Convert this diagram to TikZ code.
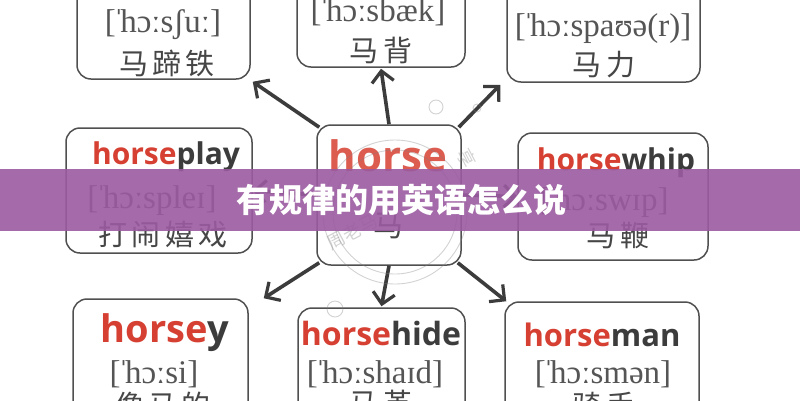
\documentclass[tikz,border=0pt]{standalone}
\usepackage{fontspec}
\setmainfont{Liberation Serif}
\newfontfamily\en{Open Sans}
\newfontfamily\cjk[LetterSpace=15]{Noto Sans CJK SC}
\newfontfamily\cjkt{Noto Sans CJK SC}
\usetikzlibrary{arrows.meta}
\definecolor{hred}{RGB}{214,64,50}
\definecolor{hgray}{RGB}{60,60,60}
\definecolor{pgray}{RGB}{85,85,85}
\definecolor{cgray}{RGB}{70,70,70}
\definecolor{edgec}{RGB}{80,80,80}
\definecolor{arrc}{RGB}{60,60,60}
\definecolor{bannerc}{RGB}{155,90,160}
\newcommand\hw[2]{{\color{hred}#1}{\color{hgray}#2}}
\newcommand\stress{\kern-0.08em ˈ\kern-0.12em}
\tikzset{
  box/.style={draw=edgec, line width=1.5pt, rounded corners=14pt, inner sep=0pt},
  word/.style={anchor=base, inner sep=0pt, font=\en\bfseries\fontsize{#1}{#1}\selectfont},
  phon/.style={anchor=base, inner sep=0pt, text=pgray, font=\fontsize{#1}{#1}\selectfont},
  zh/.style={anchor=center, inner sep=0pt, text=cgray, font=\cjk\fontsize{#1}{#1}\selectfont},
  arr/.style={draw=arrc, line width=3.6pt, -{Straight Barb[length=11pt,width=22pt,line width=3.2pt]}},
  wm/.style={draw=gray, opacity=0.35, line width=0.9pt}
}
\begin{document}
\begin{tikzpicture}[x=1pt,y=-1pt]
\useasboundingbox (0,0) rectangle (800,400);
\clip (0,0) rectangle (800,400);
\fill[white] (0,0) rectangle (800,400);
% boxes
\node[box, minimum width=173pt, minimum height=119pt] (tl) at (163.5,19.5) {};
\node[box, minimum width=168pt, minimum height=107pt] (tm) at (381,13.5) {};
\node[box, minimum width=193pt, minimum height=122pt] (tr) at (603.5,21) {};
\node[box, minimum width=186pt, minimum height=125pt] (ml) at (159,190.5) {};
\node[box, minimum width=144pt, minimum height=140pt] (c) at (389,195) {};
\node[box, minimum width=190pt, minimum height=127pt] (mr) at (613,196.5) {};
\node[box, minimum width=175pt, minimum height=141pt] (bl) at (160.5,369.5) {};
\node[box, minimum width=167pt, minimum height=132pt] (bm) at (381.5,374) {};
\node[box, minimum width=194pt, minimum height=138pt] (br) at (602,371) {};
% texts top row
\node[phon=33] (tlp) at (163,32) {[\stress hɔːsʃuː]};
\node[zh=29] (tlz) at (167,63) {马蹄铁};
\node[phon=33] (tmp) at (378,21) {[\stress hɔːsbæk]};
\node[zh=29] (tmz) at (381,50) {马背};
\node[phon=33] (trp) at (603,36) {[\stress hɔːspaʊə(r)]};
\node[zh=29] (trz) at (604,65) {马力};
% middle row
\node[word=30] (mlw) at (166,164) {\hw{horse}{play}};
\node[phon=33] (mlp) at (152,208) {[\stress hɔːspleɪ]};
\node[zh=29] (mlz) at (163,235) {打闹嬉戏};
\node[word=42, text opacity=0.85] (cw) at (388,171) {\hw{horse}{}};
\node[zh=30] (cz) at (388,226) {马};
\node[word=30] (mrw) at (616,170) {\hw{horse}{whip}};
\node[phon=33] (mrp) at (604,210) {[\stress hɔːswɪp]};
\node[zh=29] (mrz) at (618,236) {马鞭};
% bottom row
\node[word=38] (blw) at (165,342) {\hw{horse}{y}};
\node[phon=33] (blp) at (154,383) {[\stress hɔːsi]};
\node[zh=29] (blz) at (163,405) {像马的};
\node[word=32] (bmw) at (381,345) {\hw{horse}{hide}};
\node[phon=33] (bmp) at (375,383) {[\stress hɔːshaɪd]};
\node[zh=29] (bmz) at (381,403) {马革};
\node[word=31] (brw) at (602,346) {\hw{horse}{man}};
\node[phon=33] (brp) at (603,383) {[\stress hɔːsmən]};
\node[zh=29] (brz) at (604,405) {骑手};
% arrows
\draw[arr] ([shift={(3pt,-3pt)}]c.north west) -- ([shift={(2pt,-2pt)}]tl.south east);
\draw[arr] (c.north) -- ([yshift=-1pt]tm.south);
\draw[arr] ([shift={(-3pt,-3pt)}]c.north east) -- ([shift={(-6pt,-2pt)}]tr.south west);
\draw[arr] (c.west) -- (ml.east);
\draw[arr] (c.east) -- (mr.west);
\draw[arr] ([shift={(3pt,3pt)}]c.south west) -- ([shift={(15pt,0pt)}]bl.north east);
\draw[arr] (c.south) -- ([yshift=1pt]bm.north);
\draw[arr] ([shift={(-4pt,3pt)}]c.south east) -- ([shift={(2pt,0pt)}]br.north west);
% watermark
\coordinate (wmc) at (395,212);
\draw[wm] (wmc) circle[radius=72pt];
\draw[wm] (wmc) circle[radius=62pt];
\node[opacity=0.35, text=gray, rotate=28, font=\cjkt\fontsize{18}{18}\selectfont] (wmt) at (352,232) {周老马};
\node[opacity=0.35, text=gray, rotate=-62, font=\cjkt\fontsize{18}{18}\selectfont] (wms) at (467,158) {享};
\draw[wm] (436,107) circle[radius=7pt];
\draw[wm] (477,108) circle[radius=4pt];
\draw[wm] (335,309) circle[radius=8pt];
% banner
\fill[bannerc, fill opacity=0.9] (0,169) rectangle (800,231);
\node[text=white, font=\cjkt\bfseries\fontsize{33}{33}\selectfont, inner sep=0pt] (title) at (401,200) {有规律的用英语怎么说};
\end{tikzpicture}
\end{document}
